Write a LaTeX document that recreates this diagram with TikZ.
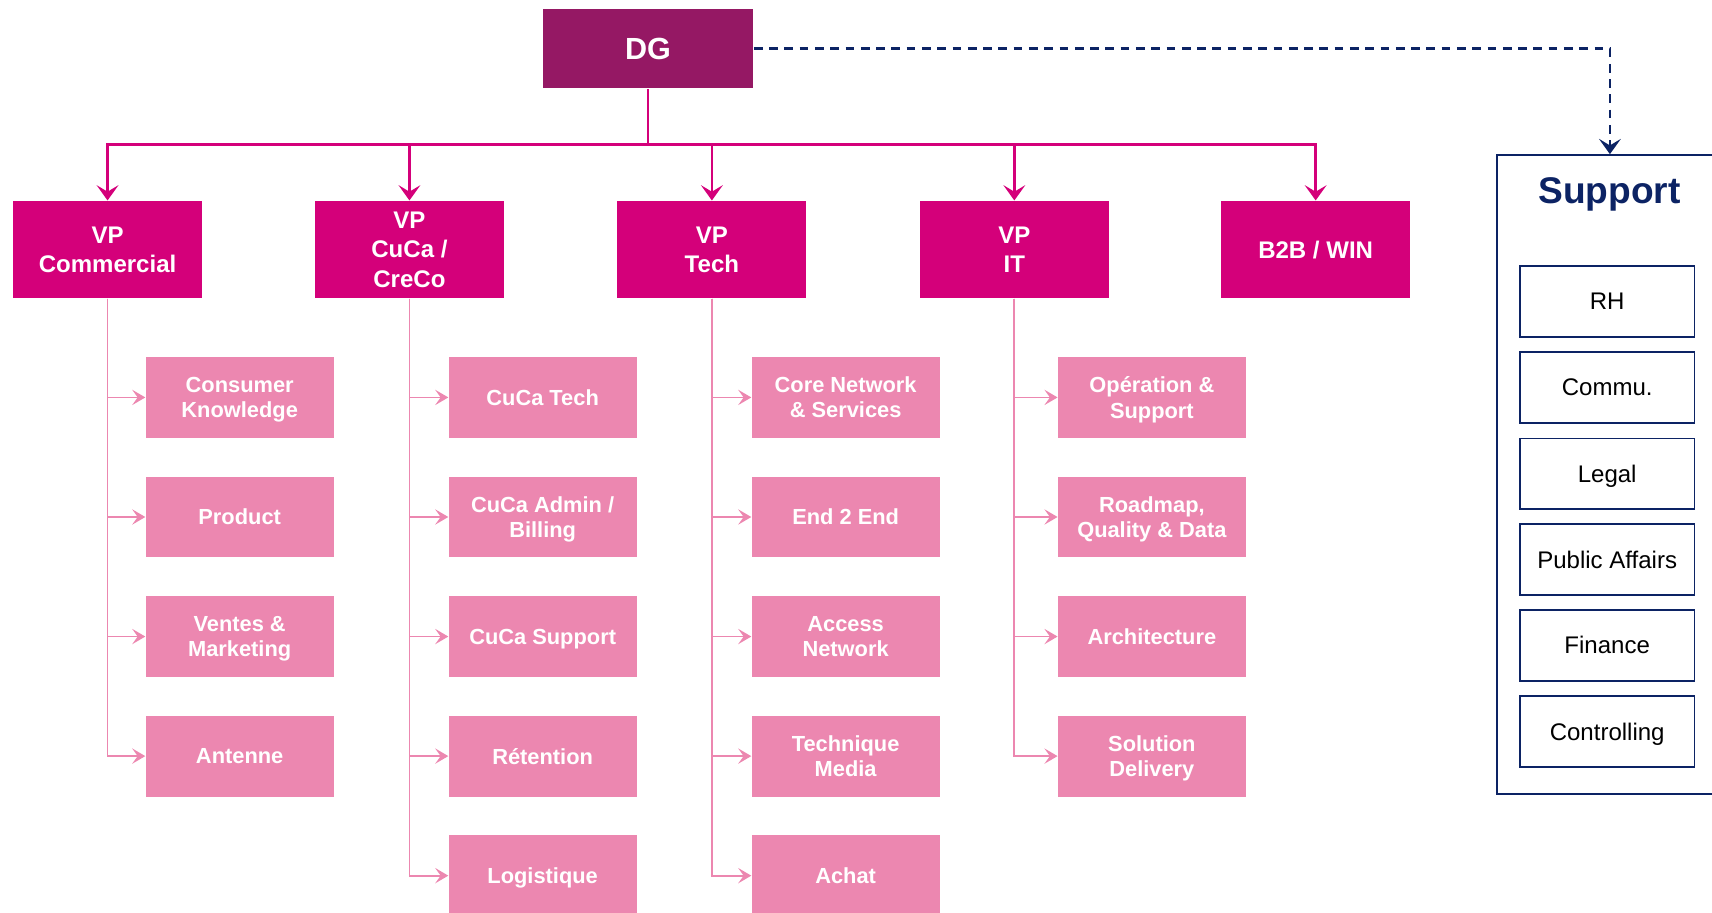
\documentclass[tikz,border=0pt]{standalone}
\usepackage{fontspec}
\setmainfont{Liberation Sans}
\usetikzlibrary{arrows.meta}

\definecolor{dgpurple}{RGB}{149,24,100}
\definecolor{vpmagenta}{RGB}{212,0,122}
\definecolor{subpink}{RGB}{236,135,176}
\definecolor{supnavy}{RGB}{12,35,100}

\begin{document}
\begin{tikzpicture}[x=0.5pt,y=-0.5pt,
  dgbox/.style={fill=dgpurple,text=white,font=\bfseries\fontsize{14}{16}\selectfont,
    minimum width=96.5pt,minimum height=36.5pt,inner sep=0pt},
  vpbox/.style={fill=vpmagenta,text=white,font=\bfseries\fontsize{11}{13.5}\selectfont,
    align=center,text depth=0pt,minimum width=86.5pt,minimum height=44.5pt,inner sep=0pt},
  subbox/.style={fill=subpink,text=white,font=\bfseries\fontsize{10}{11.5}\selectfont,
    align=center,text depth=0pt,minimum width=86pt,minimum height=37pt,inner sep=0pt},
  supframe/.style={draw=supnavy,line width=0.8pt,minimum width=103.5pt,minimum height=292.5pt},
  supbox/.style={draw=supnavy,line width=0.8pt,font=\fontsize{11}{13}\selectfont,
    text depth=0pt,minimum width=80pt,minimum height=32.5pt,inner sep=0pt},
  topline/.style={draw=vpmagenta,line width=1.2pt,-{Stealth[length=7pt,width=10pt,inset=3pt]}},
  subline/.style={draw=subpink,line width=0.8pt,-{Stealth[length=6pt,width=7pt,inset=2.5pt]}},
  dashline/.style={draw=supnavy,line width=1pt,dash pattern=on 4pt off 3pt,
    -{Stealth[length=7pt,width=10pt,inset=3pt]}}]
\useasboundingbox (0,0) rectangle (1568,836);

% head and the five VP boxes
\node[dgbox] (dg) at (593.5,44.5) {DG};
\node[vpbox] (vpcom) at (98.5,228.5) {VP\\Commercial};
\node[vpbox] (vpcuca) at (375,228.5) {VP\\CuCa /\\CreCo};
\node[vpbox] (vptech) at (652,228.5) {VP\\Tech};
\node[vpbox] (vpit) at (929,228.5) {VP\\IT};
\node[vpbox] (b2b) at (1205,228.5) {B2B / WIN};

% Commercial
\node[subbox] (ck) at (219.5,364) {Consumer\\Knowledge};
\node[subbox] (prod) at (219.5,473.5) {Product};
\node[subbox] (vente) at (219.5,583) {Ventes \&\\Marketing};
\node[subbox] (ant) at (219.5,692.5) {Antenne};
% CuCa / CreCo
\node[subbox] (ctech) at (497,364) {CuCa Tech};
\node[subbox] (cadmin) at (497,473.5) {CuCa Admin /\\Billing};
\node[subbox] (csupp) at (497,583) {CuCa Support};
\node[subbox] (reten) at (497,692.5) {Rétention};
\node[subbox] (logi) at (497,802) {Logistique};
% Tech
\node[subbox] (core) at (774.5,364) {Core Network\\\& Services};
\node[subbox] (e2e) at (774.5,473.5) {End 2 End};
\node[subbox] (acc) at (774.5,583) {Access\\Network};
\node[subbox] (media) at (774.5,692.5) {Technique\\Media};
\node[subbox] (achat) at (774.5,802) {Achat};
% IT
\node[subbox] (oper) at (1055,364) {Opération \&\\Support};
\node[subbox] (road) at (1055,473.5) {Roadmap,\\Quality \& Data};
\node[subbox] (arch) at (1055,583) {Architecture};
\node[subbox] (sol) at (1055,692.5) {Solution\\Delivery};

% support functions
\node[supframe] (sup) at (1474.5,434.5) {};
\node[text=supnavy,font=\bfseries\fontsize{17}{20}\selectfont] (suptitle) at (1474,178) {Support};
\node[supbox] (rh) at (1472,276) {RH};
\node[supbox] (comm) at (1472,355) {Commu.};
\node[supbox] (legal) at (1472,434) {Legal};
\node[supbox] (pub) at (1472,512.5) {Public Affairs};
\node[supbox] (fin) at (1472,591) {Finance};
\node[supbox] (ctrl) at (1472,670) {Controlling};

% DG to the VPs
\draw[draw=vpmagenta,line width=1.2pt] (dg.south) -- ++(0,51) coordinate (bar);
\foreach \vp in {vpcom,vpcuca,vptech,vpit,b2b}
  \draw[topline] (bar) -| (\vp.north);

% VPs to their teams
\foreach \sub in {ck,prod,vente,ant}
  \draw[subline] (vpcom.south) |- (\sub.west);
\foreach \sub in {ctech,cadmin,csupp,reten,logi}
  \draw[subline] (vpcuca.south) |- (\sub.west);
\foreach \sub in {core,e2e,acc,media,achat}
  \draw[subline] (vptech.south) |- (\sub.west);
\foreach \sub in {oper,road,arch,sol}
  \draw[subline] (vpit.south) |- (\sub.west);

\draw[dashline] (dg.east) -| (sup.north);
\end{tikzpicture}
\end{document}
